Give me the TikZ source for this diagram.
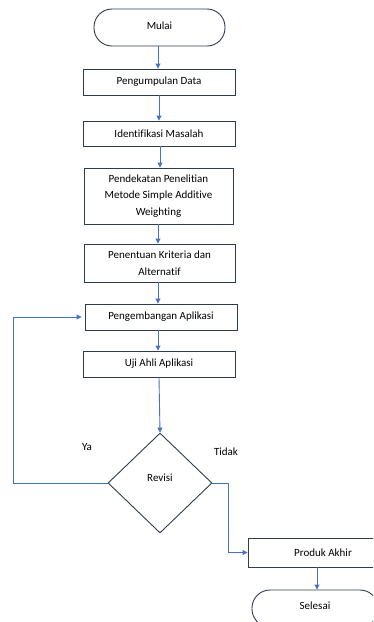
\documentclass[tikz,border=0pt]{standalone}
\usepackage{fontspec}
\setmainfont{Carlito}[Ligatures=NoCommon]
\usetikzlibrary{shapes.geometric,arrows.meta}
\definecolor{arrowblue}{HTML}{4472C4}
\definecolor{boxline}{HTML}{2F3B4C}
\tikzset{
  procbox/.style={draw=boxline, line width=0.9pt, rectangle, align=center, inner sep=0pt, font=\fontsize{11}{16.5}\selectfont},
  termbox/.style={draw=boxline, line width=0.9pt, rectangle, rounded corners=18pt, inner sep=0pt, font=\fontsize{11}{16.5}\selectfont},
  decbox/.style={draw=boxline, line width=0.9pt, diamond, inner sep=0pt},
  flow/.style={draw=arrowblue, line width=0.9pt, -{Triangle[width=5pt,length=5pt]}},
  lbl/.style={font=\fontsize{11}{16.5}\selectfont, inner sep=0pt}
}
\begin{document}
\begin{tikzpicture}[x=1pt,y=-1pt]
\useasboundingbox (0,0) rectangle (373,622);
\clip (0,0) rectangle (373,622);
\node[termbox, minimum width=131pt, minimum height=37pt] (mulai) at (159.5,27.5) {};
\node[lbl] (mulaitxt) at (159.5,26) {Mulai};
\node[procbox, minimum width=152pt, minimum height=26pt] (data) at (159,82) {Pengumpulan Data};
\node[procbox, minimum width=152pt, minimum height=25pt] (ident) at (159,133.5) {Identifikasi Masalah};
\node[procbox, minimum width=149pt, minimum height=56pt] (pend) at (158.5,196) {Pendekatan Penelitian\\Metode Simple Additive\\Weighting};
\node[procbox, minimum width=151pt, minimum height=38pt] (krit) at (159.5,263) {Penentuan Kriteria dan\\Alternatif};
\node[procbox, minimum width=152pt, minimum height=26pt] (dev) at (161,317) {Pengembangan Aplikasi};
\node[procbox, minimum width=152pt, minimum height=26pt] (uji) at (159,364) {Uji Ahli Aplikasi};
\node[decbox, minimum width=104pt, minimum height=100pt] (rev) at (160,483) {};
\node[lbl] (revtxt) at (160,478) {Revisi};
\node[procbox, minimum width=150pt, minimum height=29pt] (prod) at (323,552.5) {Produk Akhir};
\node[termbox, minimum width=126pt, minimum height=37pt] (sel) at (315,608.5) {};
\node[lbl] (seltxt) at (315,606) {Selesai};
\node[lbl] (ya) at (87,447) {Ya};
\node[lbl] (tidak) at (226,452) {Tidak};
\coordinate (loopx) at (13,483);
\coordinate (rightx) at (228,483);
\draw[flow] (mulai.south -| 158,0) -- (data.north -| 158,0);
\draw[flow] (data.south -| 159,0) -- (ident.north -| 159,0);
\draw[flow] (ident.south -| 160,0) -- (pend.north -| 160,0);
\draw[flow] (pend.south -| 158,0) -- (krit.north -| 158,0);
\draw[flow] (krit.south -| 158,0) -- (dev.north -| 158,0);
\draw[flow] (dev.south -| 158,0) -- (uji.north -| 158,0);
\draw[flow] (uji.south -| 159,0) -- (rev.north);
\draw[flow] (rev.west) -- (loopx) |- ([xshift=-3pt]dev.west);
\draw[flow] (rev.east) -- (rightx) |- (prod.west);
\draw[flow] (prod.south -| 317,0) -- (sel.north -| 317,0);
\end{tikzpicture}
\end{document}
